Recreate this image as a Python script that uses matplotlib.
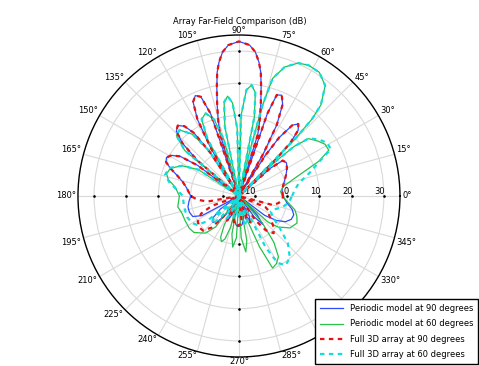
import numpy as np
import matplotlib
matplotlib.use("Agg")
import matplotlib.pyplot as plt
import matplotlib.transforms as mtransforms

# (angle deg, gain dB), nulls clipped at -15
periodic_90 = [(0, -1.3), (8, -1.5), (16, -0.5), (24, 1.0), (30, 2.2), (35, 3.0), (39, 2.5), (41.5, -2), (43, -15),
               (44.5, 0), (46, 8), (48, 12.5), (50.5, 14), (53, 12.5), (55.5, 7), (57, 0), (58.5, -15),
               (60, 0), (62, 10), (64.5, 16.5), (67, 19), (69.5, 18.5), (71, 12), (72, -15),
               (73, 5), (74.5, 9), (76.5, 14), (78.5, 19.5), (80, 24), (81.5, 27), (83.5, 30), (86, 32), (90, 33),
               (94, 32), (96.5, 30), (98.5, 27), (100, 24), (101.5, 19.5), (103.5, 14), (105.5, 9), (107, 5), (108, -15),
               (109, 12), (111, 18), (113.5, 19), (116, 17.5), (118.5, 12), (120.5, 2), (122, -15),
               (123.5, 1), (125.5, 9), (128, 12.5), (131, 14), (134, 13), (137, 9), (139.5, 2), (141.5, -15),
               (143.5, 1), (146, 7), (149, 9.5), (152, 10.5), (155, 10), (158, 8), (162, 5), (166, 3), (171, 1.5),
               (180, 0), (186, 0.6), (192, 1.2), (198, 1.2), (204, 0.7), (208, -2), (211, -15),
               (215, -8), (220, -4.5), (225, -3.5), (230, -4.5), (235, -8), (238, -15),
               (242, -9), (246, -7), (250, -9), (252, -15), (258, -8), (264, -6), (270, -5.5), (276, -6), (282, -8), (288, -15),
               (291, -8), (294, -6.5), (297, -8), (302, -15), (306, -7), (310, -3.5), (314, -7), (318, -15),
               (323, -5), (327, -1), (331, 1.5), (336, 2.8), (341, 3), (346, 2), (352, 0), (360, -1.3)]

periodic_60 = [(0, -1.5), (6, -2), (12, -1), (18, 3.5), (23.5, 12), (27, 16.3), (31, 16.2), (35, 14.8), (39.5, 13), (42, 8),
               (43.5, 0), (44.5, -15),
               (45.5, 10), (46.5, 18), (48, 23), (52, 28.5), (57, 30.8), (62, 31), (66, 30.2), (70.5, 27.5), (74, 23),
               (75.5, 14), (76.5, 0), (77.5, -15),
               (79, 10), (81, 17.5), (83.5, 19.7), (86, 18), (88.5, 10), (90, -15),
               (91.5, 6), (94, 14), (96.5, 16.2), (99, 14.5), (101.5, 7), (103, -15),
               (105, 3), (108, 10), (112, 12.7), (116, 11.5), (119, 5), (121, -15),
               (123.5, 2), (127, 9), (132, 12.6), (136, 12), (140, 7), (143, -15),
               (147, 0), (152, 5), (158, 8), (163, 8.5), (167, 7.5), (172, 5), (180, 3.5), (190, 4.3), (197, 3.5),
               (205, 3.4), (213, 3.4), (219, 3), (224, 1.5), (228, 0.5), (233, -3), (238, -15),
               (243, -5), (246, -1), (249, 0.2), (252, -1), (255, -5), (257, -15),
               (259.5, -3), (263, 1), (266.5, -2), (269, -15), (273, -2), (277, 2.5), (280, -1), (282.5, -15),
               (288, -8), (292, 2), (295, 9.7), (299, 9), (303, 7.5), (307, 3), (311, -4), (315, -15),
               (318, -3), (321.5, 0.5), (328, 3.7), (335, 4.9), (341, 4), (346, 2.9), (352, 0.5), (360, -1.5)]

full3d_90 = [(0, -1.3), (8, -1.5), (16, -0.5), (24, 1.0), (30, 2.2), (35, 3.0), (39, 2.5), (41.5, -2), (43, -15),
             (44.5, 0), (46, 8), (48, 12.5), (50.5, 14), (53, 12.5), (55.5, 7), (57, 0), (58.5, -15),
             (60, 0), (62, 10), (64.5, 16.5), (67, 19), (69.5, 18.5), (71, 12), (72, -15),
             (73, 5), (74.5, 9), (76.5, 14), (78.5, 19.5), (80, 24), (81.5, 27), (83.5, 30), (86, 32), (90, 33),
             (94, 32), (96.5, 30), (98.5, 27), (100, 24), (101.5, 19.5), (103.5, 14), (105.5, 9), (107, 5), (108, -15),
             (109, 12), (111, 18), (113.5, 19), (116, 17.5), (118.5, 12), (120.5, 2), (122, -15),
             (123.5, 1), (125.5, 9), (128, 12.5), (131, 14), (134, 13), (137, 9), (139.5, 2), (141.5, -15),
             (143.5, 1), (146, 7), (149, 9.5), (152, 10.5), (155, 10), (158, 8), (162, 5), (166, 3), (171, 1.5),
             (180, 0), (185, -2), (190, -5), (194, -15),
             (200, -6), (205, -2), (212, 0.1), (219, 0.7), (224, 0.5), (229, -2), (233, -7), (236, -15),
             (241, -8), (244, -6.5), (248, -8), (252, -15), (258, -7), (264, -5.5), (270, -6), (276, -6.5), (282, -15),
             (288, -7), (294, -6), (300, -15),
             (304, -6), (308, -1.5), (313, 0.8), (318, -0.5), (323, -2.5), (328, -4), (333, -4.5), (337, -6), (341, -15),
             (345, -4), (350, -2.5), (355, -1.5), (360, -1.3)]

full3d_60 = [(0, 1.5), (6, 2.4), (12, 4), (18, 8), (23.5, 12.5), (27, 17), (31, 17), (35, 15.5), (39.5, 13.2), (42, 8),
             (43.5, 0), (44.5, -15),
             (45.5, 10), (46.5, 18), (48, 23), (52, 28.5), (57, 30.8), (62, 31), (66, 30.2), (70.5, 27.5), (74, 23),
             (75.5, 14), (76.5, 0), (77.5, -15),
             (79, 10), (81, 17.5), (83.5, 19.7), (86, 18), (88.5, 10), (90, -15),
             (91.5, 6), (94, 14), (96.5, 16.2), (99, 14.5), (101.5, 7), (103, -15),
             (105, 3), (108, 10), (112, 12.7), (116, 11.5), (119, 5), (121, -15),
             (123.5, 2), (127, 9), (132, 12.6), (136, 12), (140, 7), (143, -15),
             (147, 0), (152, 5), (158, 8.3), (164, 8.9), (169, 7), (174, 4.5), (180, 2.4), (190, 2.4), (202, 2.4),
             (210, 1.8), (214.6, 0.8), (218, -2), (220, -15),
             (222, -4), (226, -3), (230, -6), (233, -15), (237, -8), (241, -7), (245, -9), (248, -15),
             (252, -10), (256, -8), (260, -10), (263, -15), (266, -9), (270, -8), (274, -9), (277, -15),
             (281, -7), (285, -5.5), (289, -7), (293, -15),
             (297.5, 3), (300, 9), (304, 10.9), (309.4, 9.9), (316, 6.1), (322, 1), (328, -2.6), (334, -4), (340, -3),
             (346, -1), (352, 0.5), (360, 1.5)]

r_ticks = [-10, 0, 10, 20, 30]
theta_ticks = list(range(0, 360, 15))
labels = ["Periodic model at 90 degrees", "Periodic model at 60 degrees",
          "Full 3D array at 90 degrees", "Full 3D array at 60 degrees"]


def split(pts):
    deg = np.array([p[0] for p in pts], dtype=float)
    db = np.array([p[1] for p in pts], dtype=float)
    return np.deg2rad(deg), db


def main():
    fig = plt.figure(figsize=(4.79, 3.66), dpi=100)
    ax = fig.add_axes([0.1628, 0.0246, 0.6722, 0.8798], projection="polar")

    t, r = split(periodic_90)
    ax.plot(t, r, color="#2b4cff", lw=0.9, label=labels[0], zorder=3)
    t, r = split(periodic_60)
    ax.plot(t, r, color="#27c04a", lw=0.9, label=labels[1], zorder=3)
    t, r = split(full3d_90)
    ax.plot(t, r, color="#e81010", lw=1.6, ls=(0, (2, 2)), label=labels[2], zorder=4)
    t, r = split(full3d_60)
    ax.plot(t, r, color="#10dede", lw=1.6, ls=(0, (2, 2)), label=labels[3], zorder=4)

    # little tick dots on the cardinal spokes
    for a in (0, 90, 180, 270):
        ax.plot(np.full(len(r_ticks), np.deg2rad(a)), r_ticks, ls="none", marker=".",
                ms=1.8, color="black", zorder=2)

    rmax = 35
    ax.set_rlim(-15, rmax)
    ax.set_yticks(r_ticks)
    ax.set_yticklabels([])
    for v in r_ticks:
        ax.text(0, v + 0.4, str(v), ha="right", va="bottom", fontsize=6)

    # angle labels hugging the outer circle
    ax.set_xticks(np.deg2rad(theta_ticks))
    ax.set_xticklabels([])
    for a in theta_ticks:
        c, s = np.cos(np.deg2rad(a)), np.sin(np.deg2rad(a))
        ha = "left" if c > 0.1 else ("right" if c < -0.1 else "center")
        va = "bottom" if s > 0.1 else ("top" if s < -0.1 else "center")
        off = mtransforms.ScaledTranslation(1.5 / 72 * c, 0, fig.dpi_scale_trans)
        ax.text(np.deg2rad(a), rmax, f"{a}°", ha=ha, va=va, fontsize=6,
                transform=ax.transData + off, clip_on=False)

    ax.grid(True, color="#d9d9d9", lw=0.8)
    ax.spines["polar"].set_color("black")
    ax.spines["polar"].set_linewidth(1.0)

    fig.text(239.5 / 479, 1 - 22 / 366, "Array Far-Field Comparison (dB)", ha="center", va="center", fontsize=6)

    leg = fig.legend(loc="lower right", bbox_to_anchor=(478 / 479, 2 / 366), fontsize=6,
                     fancybox=False, framealpha=1, edgecolor="black", handlelength=2.8,
                     labelspacing=0.75, borderpad=0.6, borderaxespad=0)
    leg.get_frame().set_linewidth(1.0)

    fig.savefig("out.png", dpi=100)


if __name__ == "__main__":
    main()
